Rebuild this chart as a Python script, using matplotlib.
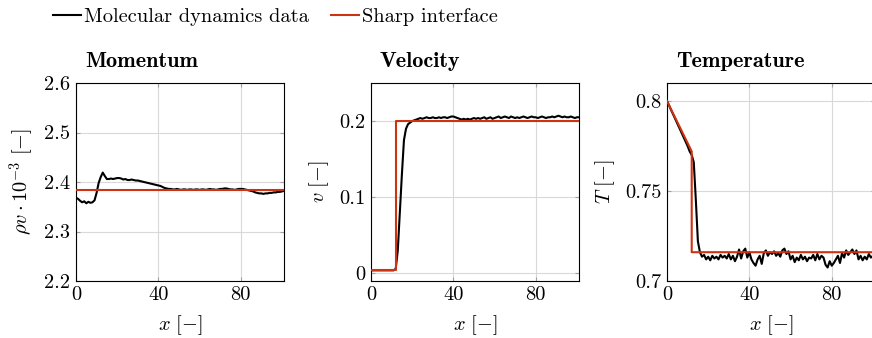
import numpy as np
import matplotlib
matplotlib.use("Agg")
import matplotlib.pyplot as plt

plt.rcParams['font.family'] = 'serif'
plt.rcParams['font.serif'] = ['cmr10']
plt.rcParams['mathtext.fontset'] = 'cm'
plt.rcParams['axes.unicode_minus'] = False

RED = '#cc3311'

# grid of the molecular dynamics samples
x_md = np.arange(0, 102)

# Momentum (rho v * 1e-3)
mom_md = [2.368, 2.366, 2.362, 2.359, 2.361, 2.357, 2.360, 2.358, 2.359, 2.363,
          2.378, 2.398, 2.410, 2.419, 2.412, 2.406, 2.406, 2.407, 2.406, 2.407,
          2.408, 2.408, 2.407, 2.405, 2.406, 2.404, 2.404, 2.405, 2.404, 2.403,
          2.403, 2.402, 2.401, 2.400, 2.399, 2.398, 2.397, 2.396, 2.395, 2.394,
          2.393, 2.392, 2.390, 2.388, 2.387, 2.386, 2.386, 2.385, 2.385, 2.386,
          2.385, 2.384, 2.385, 2.385, 2.384, 2.385, 2.385, 2.384, 2.385, 2.385,
          2.384, 2.385, 2.385, 2.384, 2.385, 2.386, 2.385, 2.385, 2.384, 2.385,
          2.386, 2.386, 2.387, 2.387, 2.386, 2.385, 2.385, 2.384, 2.385, 2.386,
          2.386, 2.386, 2.385, 2.384, 2.383, 2.382, 2.381, 2.379, 2.378, 2.377,
          2.377, 2.376, 2.377, 2.377, 2.378, 2.378, 2.379, 2.379, 2.380, 2.380,
          2.381, 2.382]
mom_x_sharp = [0, 101]
mom_sharp = [2.384, 2.384]

# Velocity
vel_md = [0.004, 0.004, 0.004, 0.004, 0.004, 0.004, 0.004, 0.004, 0.004, 0.004,
          0.004, 0.004, 0.006, 0.030, 0.080, 0.130, 0.175, 0.190, 0.196, 0.198,
          0.200, 0.201, 0.202, 0.203, 0.204, 0.203, 0.204, 0.205, 0.204, 0.204,
          0.205, 0.204, 0.204, 0.205, 0.204, 0.205, 0.205, 0.204, 0.205, 0.206,
          0.206, 0.205, 0.204, 0.203, 0.202, 0.203, 0.202, 0.203, 0.202, 0.203,
          0.204, 0.203, 0.204, 0.203, 0.204, 0.205, 0.203, 0.204, 0.205, 0.203,
          0.204, 0.205, 0.206, 0.204, 0.205, 0.206, 0.205, 0.204, 0.206, 0.205,
          0.204, 0.205, 0.204, 0.205, 0.206, 0.205, 0.204, 0.205, 0.206, 0.205,
          0.205, 0.204, 0.205, 0.206, 0.205, 0.204, 0.205, 0.205, 0.206, 0.205,
          0.206, 0.207, 0.206, 0.205, 0.206, 0.205, 0.205, 0.206, 0.205, 0.204,
          0.205, 0.205]
vel_x_sharp = [0, 12, 12, 101]
vel_sharp = [0.004, 0.004, 0.200, 0.200]

# Temperature
temp_md = [0.8000, 0.7975, 0.7950, 0.7925, 0.7900, 0.7875, 0.7850, 0.7825, 0.7800, 0.7775,
           0.7750, 0.7720, 0.7700, 0.7660, 0.7450, 0.7220, 0.7160, 0.7135, 0.7145, 0.7120,
           0.7135, 0.7115, 0.7140, 0.7125, 0.7135, 0.7120, 0.7145, 0.7130, 0.7140, 0.7125,
           0.7150, 0.7120, 0.7140, 0.7110, 0.7135, 0.7175, 0.7125, 0.7165, 0.7180, 0.7130,
           0.7160, 0.7120, 0.7100, 0.7085, 0.7120, 0.7140, 0.7095, 0.7155, 0.7170, 0.7140,
           0.7160, 0.7150, 0.7165, 0.7140, 0.7155, 0.7135, 0.7170, 0.7180, 0.7150, 0.7165,
           0.7120, 0.7140, 0.7105, 0.7130, 0.7115, 0.7145, 0.7120, 0.7135, 0.7110, 0.7130,
           0.7125, 0.7145, 0.7115, 0.7150, 0.7120, 0.7140, 0.7130, 0.7090, 0.7075, 0.7110,
           0.7085, 0.7100, 0.7120, 0.7140, 0.7100, 0.7155, 0.7130, 0.7170, 0.7145, 0.7160,
           0.7175, 0.7150, 0.7170, 0.7120, 0.7140, 0.7115, 0.7135, 0.7120, 0.7150, 0.7130,
           0.7140, 0.7135]
temp_x_sharp = [0, 12, 12, 101]
temp_sharp = [0.800, 0.772, 0.716, 0.716]

fig = plt.figure(figsize=(8.72, 3.38), dpi=100)

panels = [
    ('Momentum', mom_md, mom_x_sharp, mom_sharp, (2.2, 2.6), [2.2, 2.3, 2.4, 2.5, 2.6],
     ['2.2', '2.3', '2.4', '2.5', '2.6'], r'$\rho v \cdot 10^{-3}\ [-]$', 76),
    ('Velocity', vel_md, vel_x_sharp, vel_sharp, (-0.01, 0.25), [0, 0.1, 0.2],
     ['0', '0.1', '0.2'], r'$v\ [-]$', 371),
    ('Temperature', temp_md, temp_x_sharp, temp_sharp, (0.7, 0.81), [0.7, 0.75, 0.8],
     ['0.7', '0.75', '0.8'], r'$T\ [-]$', 667),
]

for title, md, xs, ys, ylim, yt, ytl, ylab, left in panels:
    ax = fig.add_axes([left / 872, 57 / 338, 208 / 872, 198 / 338])
    ax.plot(x_md, md, color='black', lw=1.5, zorder=3)
    ax.plot(xs, ys, color=RED, lw=1.5, zorder=4)
    ax.set_xlim(0, 101)
    ax.set_ylim(*ylim)
    ax.set_xticks([0, 40, 80])
    ax.set_xticklabels(['0', '40', '80'])
    ax.set_yticks(yt)
    ax.set_yticklabels(ytl)
    ax.grid(True, color='#d9d9d9', lw=0.8)
    ax.set_axisbelow(True)
    ax.tick_params(direction='in', length=3, color='#a0a0a0', labelsize=14.7, pad=4,
                   top=True, right=True)
    for s in ax.spines.values():
        s.set_linewidth(0.8)
    ax.set_xlabel(r'$x\ [-]$', fontsize=14.7, labelpad=6)
    ax.set_ylabel(ylab, fontsize=14.7, labelpad=6)
    ax.text(0.043, 1.08, title, transform=ax.transAxes, fontfamily='cmb10',
            fontsize=16, va='baseline', ha='left')

# legend on top
h1, = fig.axes[0].plot([], [], color='black', lw=1.5)
h2, = fig.axes[0].plot([], [], color=RED, lw=1.5)
fig.legend([h1, h2], ['Molecular dynamics data', 'Sharp interface'],
           loc='center left', bbox_to_anchor=(35 / 872, 1 - 17 / 338), ncol=2,
           frameon=False, fontsize=14.7, handlelength=1.35, handletextpad=0.15,
           columnspacing=1.1)

fig.savefig('out.png', dpi=100)
